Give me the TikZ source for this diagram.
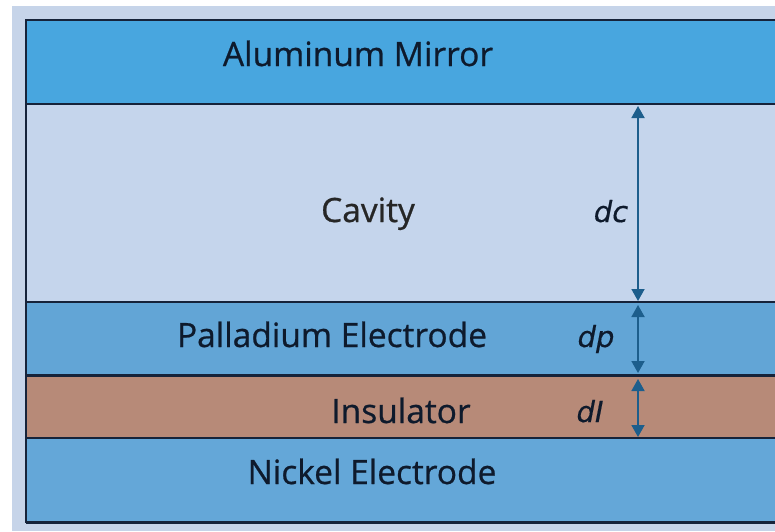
\documentclass[tikz,border=0pt]{standalone}
\usepackage{fontspec}
\setmainfont{Open Sans}
\newfontfamily\lblfont{Open Sans}[FakeBold=0.7]
\newfontfamily\dimfont{DejaVu Sans}[FakeBold=0.4]
\usetikzlibrary{arrows.meta}
\definecolor{bgc}{HTML}{C6D4E9}
\definecolor{alc}{HTML}{48A6DF}
\definecolor{cavc}{HTML}{C5D5EC}
\definecolor{pdc}{HTML}{62A5D6}
\definecolor{insc}{HTML}{B78A78}
\definecolor{nic}{HTML}{64A7D8}
\definecolor{arrc}{HTML}{1D5E8C}
\definecolor{edgec}{HTML}{16233A}
\definecolor{txtc}{HTML}{0E1A2C}
\begin{document}
\begin{tikzpicture}[x=1pt,y=-1pt,
  layer/.style={draw=edgec,line width=1.5pt,inner sep=0pt,outer sep=0pt,anchor=north west,minimum width=760pt},
  lbl/.style={font=\lblfont\fontsize{33.5}{38}\selectfont,text=txtc,inner sep=0pt,anchor=base},
  dim/.style={font=\dimfont\fontsize{29}{32}\selectfont\itshape,text=txtc,inner sep=0pt,anchor=base},
  dimarrow/.style={draw=arrc,line width=1.8pt,{Triangle[length=12pt,width=13pt]}-{Triangle[length=12pt,width=13pt]}}]
\useasboundingbox (0,0) rectangle (775,531);
\fill[white] (0,0) rectangle (775,531);
\fill[bgc] (12,6) rectangle (775,531);
\node[layer,fill=alc,minimum height=84pt] (al) at (26,20) {};
\node[layer,fill=cavc,minimum height=198pt] (cav) at (26,104) {};
\node[layer,fill=pdc,minimum height=73pt] (pd) at (26,302) {};
\node[layer,fill=insc,minimum height=62pt] (ins) at (26,376) {};
\node[layer,fill=nic,minimum height=84pt] (ni) at (26,438) {};
\draw[edgec,line width=3pt] (pd.south west) -- (pd.south east);
\draw[edgec,line width=3pt] (ni.south west) -- (ni.south east);
\draw[edgec,line width=2pt] (al.north west) -- (ni.south west);
\node[lbl] (tal) at (358,66) {Aluminum Mirror};
\node[lbl,text=black!85] (tcav) at (368,222) {Cavity};
\node[lbl] (tpd) at (332,347) {Palladium Electrode};
\node[lbl] (tins) at (401,423) {Insulator};
\node[lbl] (tni) at (372,484) {Nickel Electrode};
\coordinate (c1) at (638,106);
\coordinate (c2) at (638,301);
\coordinate (p1) at (638,305);
\coordinate (p2) at (638,373);
\coordinate (i1) at (638,379);
\coordinate (i2) at (638,437);
\draw[dimarrow] (c1) -- (c2);
\draw[dimarrow] (p1) -- (p2);
\draw[dimarrow] (i1) -- (i2);
\node[dim] (ldc) at (611,222) {dc};
\node[dim] (ldp) at (596,347) {dp};
\node[dim] (ldi) at (590,422) {dI};
\end{tikzpicture}
\end{document}
